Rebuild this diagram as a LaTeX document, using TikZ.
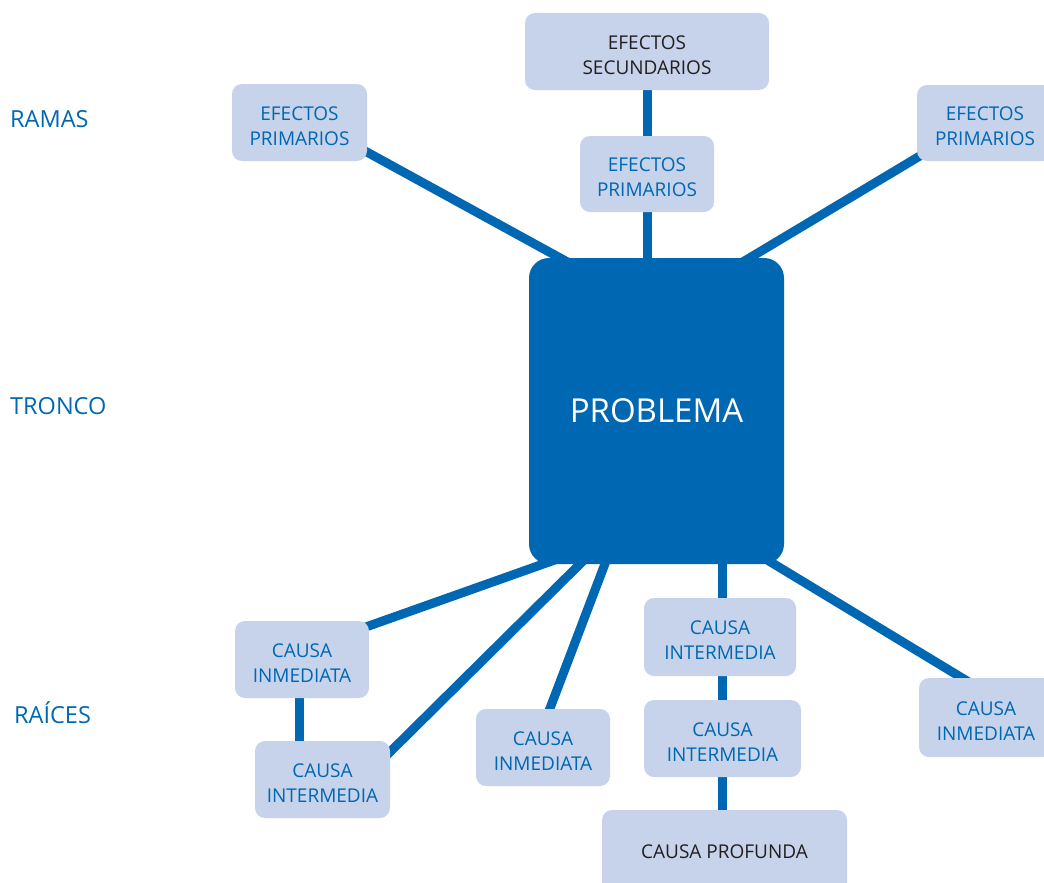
\documentclass[tikz,border=0pt]{standalone}
\usepackage{fontspec}
\setmainfont{Open Sans}
\usetikzlibrary{calc,backgrounds}
\definecolor{bblue}{HTML}{0067B2}
\definecolor{lblue}{HTML}{C6D3EB}
\definecolor{dtext}{HTML}{231F20}
\newcommand{\topstrut}{\rule{0pt}{20.5pt}}
\begin{document}
\begin{tikzpicture}[x=1pt,y=-1pt,
 box/.style={fill=lblue, rounded corners=10pt, inner sep=0pt, align=center,
   font=\fontsize{19}{25}\selectfont, text=bblue},
 darktext/.style={text=dtext},
 probbox/.style={fill=bblue, rounded corners=20pt, text=white,
   font=\fontsize{33}{40}\selectfont, inner sep=0pt},
 link/.style={draw=bblue, line width=9pt},
 side/.style={text=bblue, font=\fontsize{23.5}{28}\selectfont, anchor=west, inner sep=0pt}]
\useasboundingbox (0,0) rectangle (1044,883);

% side labels
\node[side] (ramas) at (10,119) {RAMAS};
\node[side] (tronco) at (10,406) {TRONCO};
\node[side] (raices) at (14,713) {RAÍCES};

% central problem
\node[probbox, minimum width=255, minimum height=306] (prob) at (656.5,411) {PROBLEMA};

% effects
\node[box, darktext, minimum width=244, minimum height=77] (sec) at (647,51.5) {\topstrut EFECTOS\\SECUNDARIOS};
\node[box, minimum width=134, minimum height=76] (epc) at (647,174) {\topstrut EFECTOS\\PRIMARIOS};
\node[box, minimum width=135, minimum height=77] (ep1) at (299.5,122.5) {\topstrut EFECTOS\\PRIMARIOS};
\node[box, minimum width=136, minimum height=76] (ep3) at (985,123) {\topstrut EFECTOS\\PRIMARIOS};

% causes
\node[box, minimum width=134, minimum height=77] (ci1) at (302,659.5) {\topstrut CAUSA\\INMEDIATA};
\node[box, minimum width=135, minimum height=77] (cim1) at (322.5,779.5) {\topstrut CAUSA\\INTERMEDIA};
\node[box, minimum width=134, minimum height=77] (ci2) at (543,747.5) {\topstrut CAUSA\\INMEDIATA};
\node[box, minimum width=152, minimum height=78] (cm1) at (720,637) {\topstrut CAUSA\\INTERMEDIA};
\node[box, minimum width=157, minimum height=77] (cm2) at (722.5,738.5) {\topstrut CAUSA\\INTERMEDIA};
\node[box, darktext, minimum width=245, minimum height=84] (cp) at (724.5,852) {CAUSA PROFUNDA};
\node[box, minimum width=134, minimum height=79] (ci3) at (986,717.5) {\topstrut CAUSA\\INMEDIATA};

% connector end points
\coordinate (l1a) at ($(ep1.south east)+(0,-9)$);
\coordinate (l1b) at ($(prob.north west)+(31,0)$);
\coordinate (l2a) at ($(ep3.south west)+(1,-4)$);
\coordinate (l2b) at ($(prob.north west)+(221,0)$);
\coordinate (l3a) at ($(ci1.north east)+(0,5)$);
\coordinate (l3b) at ($(prob.south west)+(14,0)$);
\coordinate (l4a) at ($(cim1.north east)+(0,11)$);
\coordinate (l4b) at ($(prob.south west)+(51,0)$);
\coordinate (l5a) at ($(ci2.north west)+(74,0)$);
\coordinate (l5b) at ($(prob.south west)+(76,0)$);
\coordinate (l6a) at ($(ci3.north west)+(43,0)$);
\coordinate (l6b) at ($(prob.south east)+(-10,0)$);
\coordinate (v1) at ($(ci1.south west)+(65,-10)$);
\coordinate (v2) at ($(cm1.north west)+(79,0)$);

\begin{scope}[on background layer]
  \draw[link] (sec.center) -- (epc.center);
  \draw[link] (epc.center) -- (epc.center |- prob.center);
  \draw[link] ($(l1a)!-0.1!(l1b)$) -- ($(l1b)!-0.1!(l1a)$);
  \draw[link] ($(l2a)!-0.1!(l2b)$) -- ($(l2b)!-0.1!(l2a)$);
  \draw[link] ($(l3a)!-0.1!(l3b)$) -- ($(l3b)!-0.1!(l3a)$);
  \draw[link] ($(l4a)!-0.08!(l4b)$) -- ($(l4b)!-0.08!(l4a)$);
  \draw[link] ($(l5a)!-0.1!(l5b)$) -- ($(l5b)!-0.1!(l5a)$);
  \draw[link] ($(l6a)!-0.1!(l6b)$) -- ($(l6b)!-0.1!(l6a)$);
  \draw[link] (v1) -- (v1 |- cim1.center);
  \draw[link] (v2 |- prob.center) -- (v2 |- cm1.center);
  \draw[link] (v2 |- cm1.center) -- (v2 |- cm2.center);
  \draw[link] (v2 |- cm2.center) -- (v2 |- cp.center);
\end{scope}
\end{tikzpicture}
\end{document}
